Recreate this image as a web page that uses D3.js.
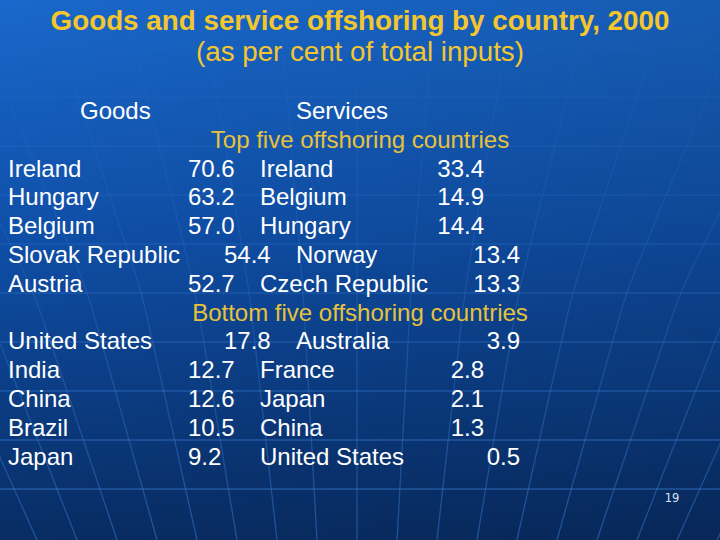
<!DOCTYPE html>
<html>
<head>
<meta charset="utf-8">
<script src="https://cdn.jsdelivr.net/npm/d3@7/dist/d3.min.js"></script>
<style>
  html, body { margin: 0; padding: 0; background: #0b3a80; }
  svg { display: block; }
</style>
</head>
<body>
<svg id="chart" width="720" height="540"></svg>
<script>
// ---- data ----
const titleText = "Goods and service offshoring by country, 2000";
const subtitleText = "(as per cent of total inputs)";
const columnHeaders = ["Goods", "Services"];
const sectionLabels = ["Top five offshoring countries", "Bottom five offshoring countries"];

const goodsTopCountries = ["Ireland", "Hungary", "Belgium", "Slovak Republic", "Austria"];
const goodsTopValues = [70.6, 63.2, 57.0, 54.4, 52.7];
const servicesTopCountries = ["Ireland", "Belgium", "Hungary", "Norway", "Czech Republic"];
const servicesTopValues = [33.4, 14.9, 14.4, 13.4, 13.3];

const goodsBottomCountries = ["United States", "India", "China", "Brazil", "Japan"];
const goodsBottomValues = [17.8, 12.7, 12.6, 10.5, 9.2];
const servicesBottomCountries = ["Australia", "France", "Japan", "China", "United States"];
const servicesBottomValues = [3.9, 2.8, 2.1, 1.3, 0.5];

const pageNumber = "19";

// ---- layout (tab stops of the original slide) ----
const rowTabShiftTop = [0, 0, 0, 1, 0];
const valueTabShiftTop = [0, 0, 0, 0, 1];
const rowTabShiftBottom = [1, 0, 0, 0, 0];
const valueTabShiftBottom = [0, 0, 0, 0, 1];

const W = 720, H = 540;
const svg = d3.select("#chart");
const defs = svg.append("defs");

const bg = defs.append("linearGradient").attr("id", "bg")
  .attr("x1", 0).attr("y1", 0).attr("x2", 0).attr("y2", 1);
bg.append("stop").attr("offset", "0%").attr("stop-color", "#1968CB");
bg.append("stop").attr("offset", "45%").attr("stop-color", "#0F4EA6");
bg.append("stop").attr("offset", "100%").attr("stop-color", "#082C63");

const shade = defs.append("linearGradient").attr("id", "shade")
  .attr("x1", 0).attr("y1", 0).attr("x2", 1).attr("y2", 0);
shade.append("stop").attr("offset", "0%").attr("stop-color", "#000").attr("stop-opacity", 0);
shade.append("stop").attr("offset", "100%").attr("stop-color", "#000").attr("stop-opacity", 0.12);

const fade = defs.append("linearGradient").attr("id", "fade")
  .attr("x1", 0).attr("y1", 0).attr("x2", 0).attr("y2", 1);
fade.append("stop").attr("offset", "0%").attr("stop-color", "#fff").attr("stop-opacity", 0.1);
fade.append("stop").attr("offset", "35%").attr("stop-color", "#fff").attr("stop-opacity", 0.35);
fade.append("stop").attr("offset", "100%").attr("stop-color", "#fff").attr("stop-opacity", 1);
defs.append("mask").attr("id", "gridMask")
  .append("rect").attr("width", W).attr("height", H).attr("fill", "url(#fade)");

svg.append("rect").attr("width", W).attr("height", H).attr("fill", "url(#bg)");
svg.append("rect").attr("width", W).attr("height", H).attr("fill", "url(#shade)");

// ---- globe grid decoration ----
const grid = svg.append("g").attr("fill", "none").attr("stroke", "#3f86e0")
  .attr("stroke-width", 1.3).attr("mask", "url(#gridMask)");
const parallelY = d3.range(-1, 9).map(k => 97 + 49 * k);
grid.selectAll("line.par").data(parallelY).enter().append("line")
  .attr("x1", 0).attr("x2", W).attr("y1", d => d).attr("y2", d => d)
  .attr("stroke-opacity", 0.5);
const spread = d3.scaleLinear().domain([540, 290, 0]).range([40, 54, 78]);
const meridians = d3.range(-9, 10);
const line = d3.line().curve(d3.curveBasis);
grid.selectAll("path.mer").data(meridians).enter().append("path")
  .attr("d", k => line(d3.range(0, 541, 30).map(y => [357 + k * spread(y), y])))
  .attr("stroke-opacity", 0.45);

// ---- text ----
const font = "'Liberation Sans', Arial, Helvetica, sans-serif";
const yellow = "#F4C62E";
const labelYellow = "#E6C23C";

svg.append("text").attr("x", W / 2).attr("y", 30)
  .attr("text-anchor", "middle").attr("font-family", font)
  .attr("font-weight", "bold").attr("font-size", 27.8).attr("fill", yellow)
  .text(titleText);
svg.append("text").attr("x", W / 2).attr("y", 61)
  .attr("text-anchor", "middle").attr("font-family", font)
  .attr("font-size", 27.7).attr("fill", yellow)
  .text(subtitleText);

const lineY = d3.scaleLinear().domain([0, 12]).range([119, 464.6]);
const tab = d3.scaleLinear().domain([0, 1]).range([8, 44]);
const fmt = d3.format(".1f");

const body = svg.append("g").attr("font-family", font).attr("font-size", 24).attr("fill", "#FFFFFF");

body.selectAll("text.head").data(columnHeaders).enter().append("text")
  .attr("x", (d, i) => tab(i === 0 ? 2 : 8)).attr("y", lineY(0)).text(d => d);

body.selectAll("text.sec").data(sectionLabels).enter().append("text")
  .attr("x", W / 2).attr("y", (d, i) => lineY(i === 0 ? 1 : 7))
  .attr("text-anchor", "middle").attr("fill", labelYellow).text(d => d);

function section(startLine, gC, gV, sC, sV, rowShift, valShift) {
  const rows = gC.map((c, i) => ({
    gc: c, gv: gV[i], sc: sC[i], sv: sV[i],
    y: lineY(startLine + i), r: rowShift[i], v: valShift[i]
  }));
  const g = body.append("g");
  g.selectAll("text.gc").data(rows).enter().append("text")
    .attr("x", tab(0)).attr("y", d => d.y).text(d => d.gc);
  g.selectAll("text.gv").data(rows).enter().append("text")
    .attr("x", d => tab(5 + d.r)).attr("y", d => d.y).text(d => fmt(d.gv));
  g.selectAll("text.sc").data(rows).enter().append("text")
    .attr("x", d => tab(7 + d.r)).attr("y", d => d.y).text(d => d.sc);
  g.selectAll("text.sv").data(rows).enter().append("text")
    .attr("x", d => tab(13 + d.r + d.v) + 8).attr("y", d => d.y)
    .attr("text-anchor", "end").text(d => fmt(d.sv));
}
section(2, goodsTopCountries, goodsTopValues, servicesTopCountries, servicesTopValues,
  rowTabShiftTop, valueTabShiftTop);
section(8, goodsBottomCountries, goodsBottomValues, servicesBottomCountries, servicesBottomValues,
  rowTabShiftBottom, valueTabShiftBottom);

svg.append("text").attr("x", 672).attr("y", 502).attr("text-anchor", "middle")
  .attr("font-family", "'DejaVu Sans', sans-serif").attr("font-size", 11.5)
  .attr("fill", "#D8E4F8").text(pageNumber);
</script>
</body>
</html>
